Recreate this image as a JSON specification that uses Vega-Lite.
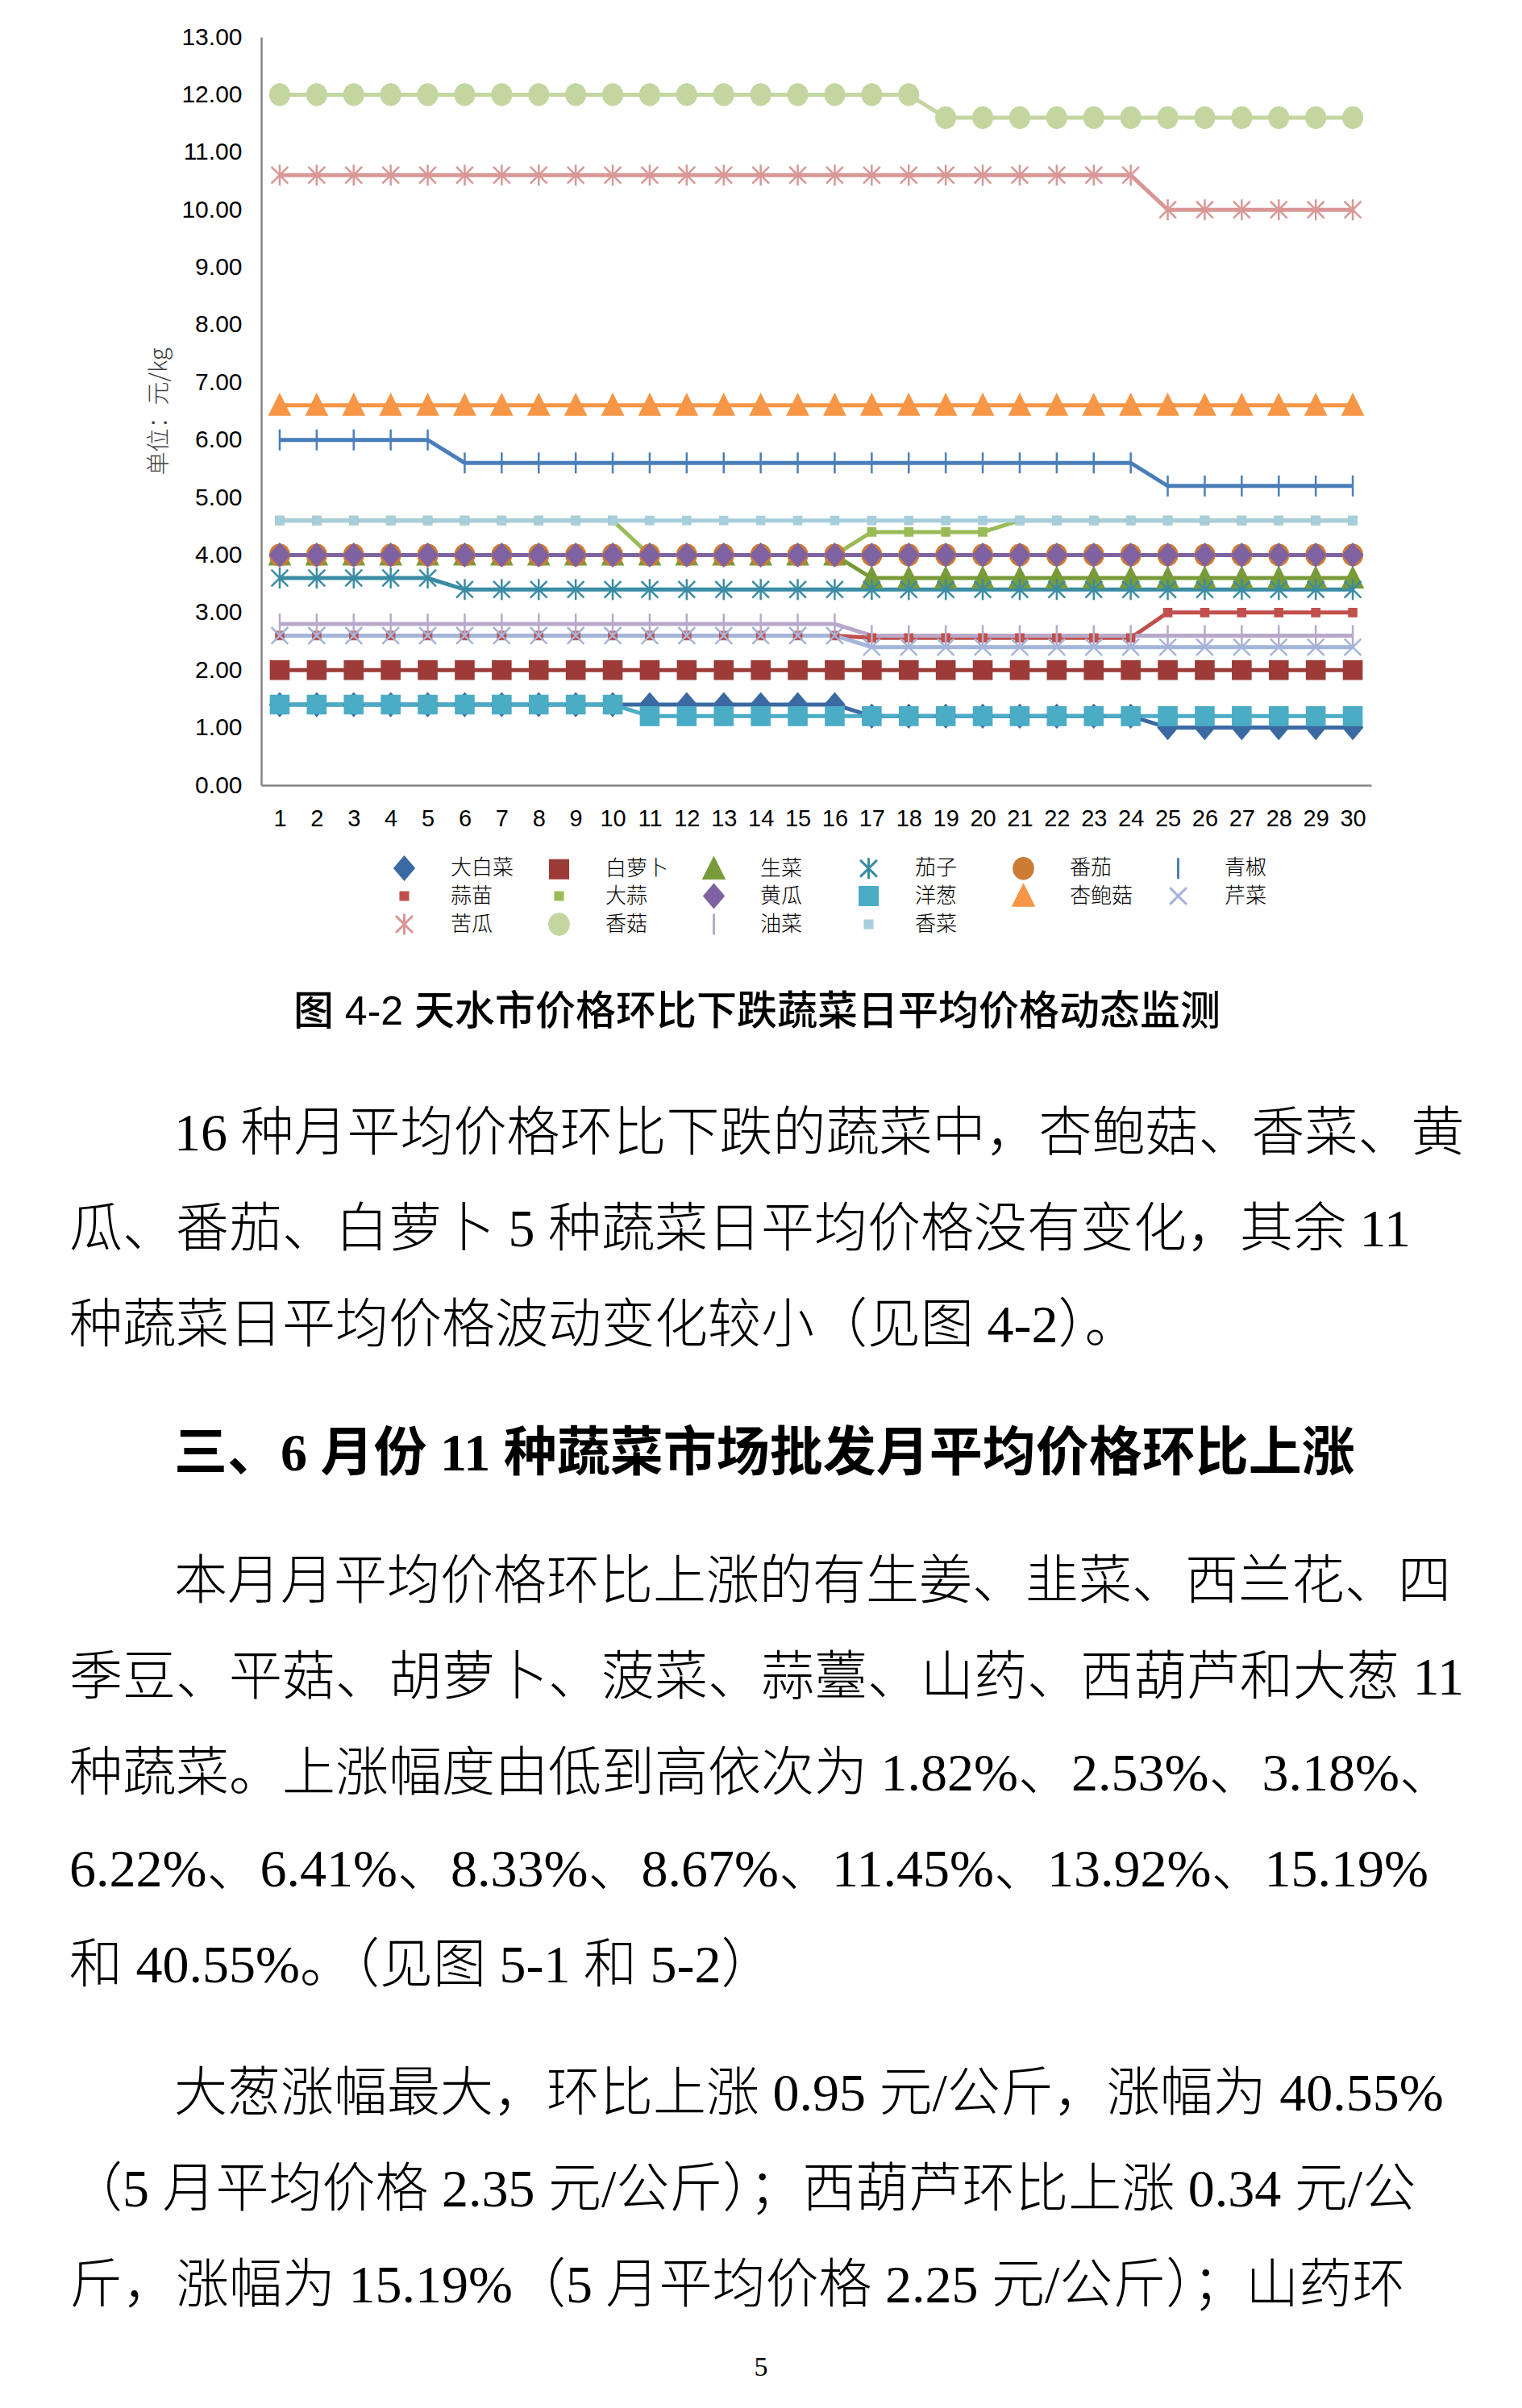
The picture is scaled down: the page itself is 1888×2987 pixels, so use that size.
{
  "$schema": "https://vega.github.io/schema/vega-lite/v6.json",
  "background": "white",
  "padding": {"left": 86, "top": 31, "right": 0, "bottom": 0},
  "config": {
    "view": {"stroke": null},
    "text": {"font": "Liberation Serif, Noto Sans CJK SC", "fontSize": 66, "fontWeight": 300, "color": "#000000", "align": "left", "baseline": "middle"},
    "legend": {
      "title": null, "orient": "none", "legendX": 163, "legendY": 1016,
      "direction": "horizontal", "columns": 6, "gridAlign": "all",
      "columnPadding": 37, "rowPadding": -19, "labelOffset": 43, "padding": 0,
      "labelFont": "Noto Sans CJK SC", "labelFontSize": 26, "labelFontWeight": 300, "labelColor": "#000000",
      "symbolSize": 676, "symbolStrokeWidth": 3, "symbolOpacity": 1
    }
  },
  "bounds": "flush",
  "spacing": 373.5,
  "vconcat": [
    {
      "width": 1377,
      "height": 928,
      "data": {"values": [
        {"day":1,"大白菜":1.4,"白萝卜":2,"生菜":4,"茄子":3.6,"番茄":4,"青椒":6,"蒜苗":2.6,"大蒜":4.6,"黄瓜":4,"洋葱":1.4,"杏鲍菇":6.6,"芹菜":2.6,"苦瓜":10.6,"香菇":12,"油菜":2.8,"香菜":4.6},
        {"day":2,"大白菜":1.4,"白萝卜":2,"生菜":4,"茄子":3.6,"番茄":4,"青椒":6,"蒜苗":2.6,"大蒜":4.6,"黄瓜":4,"洋葱":1.4,"杏鲍菇":6.6,"芹菜":2.6,"苦瓜":10.6,"香菇":12,"油菜":2.8,"香菜":4.6},
        {"day":3,"大白菜":1.4,"白萝卜":2,"生菜":4,"茄子":3.6,"番茄":4,"青椒":6,"蒜苗":2.6,"大蒜":4.6,"黄瓜":4,"洋葱":1.4,"杏鲍菇":6.6,"芹菜":2.6,"苦瓜":10.6,"香菇":12,"油菜":2.8,"香菜":4.6},
        {"day":4,"大白菜":1.4,"白萝卜":2,"生菜":4,"茄子":3.6,"番茄":4,"青椒":6,"蒜苗":2.6,"大蒜":4.6,"黄瓜":4,"洋葱":1.4,"杏鲍菇":6.6,"芹菜":2.6,"苦瓜":10.6,"香菇":12,"油菜":2.8,"香菜":4.6},
        {"day":5,"大白菜":1.4,"白萝卜":2,"生菜":4,"茄子":3.6,"番茄":4,"青椒":6,"蒜苗":2.6,"大蒜":4.6,"黄瓜":4,"洋葱":1.4,"杏鲍菇":6.6,"芹菜":2.6,"苦瓜":10.6,"香菇":12,"油菜":2.8,"香菜":4.6},
        {"day":6,"大白菜":1.4,"白萝卜":2,"生菜":4,"茄子":3.4,"番茄":4,"青椒":5.6,"蒜苗":2.6,"大蒜":4.6,"黄瓜":4,"洋葱":1.4,"杏鲍菇":6.6,"芹菜":2.6,"苦瓜":10.6,"香菇":12,"油菜":2.8,"香菜":4.6},
        {"day":7,"大白菜":1.4,"白萝卜":2,"生菜":4,"茄子":3.4,"番茄":4,"青椒":5.6,"蒜苗":2.6,"大蒜":4.6,"黄瓜":4,"洋葱":1.4,"杏鲍菇":6.6,"芹菜":2.6,"苦瓜":10.6,"香菇":12,"油菜":2.8,"香菜":4.6},
        {"day":8,"大白菜":1.4,"白萝卜":2,"生菜":4,"茄子":3.4,"番茄":4,"青椒":5.6,"蒜苗":2.6,"大蒜":4.6,"黄瓜":4,"洋葱":1.4,"杏鲍菇":6.6,"芹菜":2.6,"苦瓜":10.6,"香菇":12,"油菜":2.8,"香菜":4.6},
        {"day":9,"大白菜":1.4,"白萝卜":2,"生菜":4,"茄子":3.4,"番茄":4,"青椒":5.6,"蒜苗":2.6,"大蒜":4.6,"黄瓜":4,"洋葱":1.4,"杏鲍菇":6.6,"芹菜":2.6,"苦瓜":10.6,"香菇":12,"油菜":2.8,"香菜":4.6},
        {"day":10,"大白菜":1.4,"白萝卜":2,"生菜":4,"茄子":3.4,"番茄":4,"青椒":5.6,"蒜苗":2.6,"大蒜":4.6,"黄瓜":4,"洋葱":1.4,"杏鲍菇":6.6,"芹菜":2.6,"苦瓜":10.6,"香菇":12,"油菜":2.8,"香菜":4.6},
        {"day":11,"大白菜":1.4,"白萝卜":2,"生菜":4,"茄子":3.4,"番茄":4,"青椒":5.6,"蒜苗":2.6,"大蒜":4,"黄瓜":4,"洋葱":1.2,"杏鲍菇":6.6,"芹菜":2.6,"苦瓜":10.6,"香菇":12,"油菜":2.8,"香菜":4.6},
        {"day":12,"大白菜":1.4,"白萝卜":2,"生菜":4,"茄子":3.4,"番茄":4,"青椒":5.6,"蒜苗":2.6,"大蒜":4,"黄瓜":4,"洋葱":1.2,"杏鲍菇":6.6,"芹菜":2.6,"苦瓜":10.6,"香菇":12,"油菜":2.8,"香菜":4.6},
        {"day":13,"大白菜":1.4,"白萝卜":2,"生菜":4,"茄子":3.4,"番茄":4,"青椒":5.6,"蒜苗":2.6,"大蒜":4,"黄瓜":4,"洋葱":1.2,"杏鲍菇":6.6,"芹菜":2.6,"苦瓜":10.6,"香菇":12,"油菜":2.8,"香菜":4.6},
        {"day":14,"大白菜":1.4,"白萝卜":2,"生菜":4,"茄子":3.4,"番茄":4,"青椒":5.6,"蒜苗":2.6,"大蒜":4,"黄瓜":4,"洋葱":1.2,"杏鲍菇":6.6,"芹菜":2.6,"苦瓜":10.6,"香菇":12,"油菜":2.8,"香菜":4.6},
        {"day":15,"大白菜":1.4,"白萝卜":2,"生菜":4,"茄子":3.4,"番茄":4,"青椒":5.6,"蒜苗":2.6,"大蒜":4,"黄瓜":4,"洋葱":1.2,"杏鲍菇":6.6,"芹菜":2.6,"苦瓜":10.6,"香菇":12,"油菜":2.8,"香菜":4.6},
        {"day":16,"大白菜":1.4,"白萝卜":2,"生菜":4,"茄子":3.4,"番茄":4,"青椒":5.6,"蒜苗":2.6,"大蒜":4,"黄瓜":4,"洋葱":1.2,"杏鲍菇":6.6,"芹菜":2.6,"苦瓜":10.6,"香菇":12,"油菜":2.8,"香菜":4.6},
        {"day":17,"大白菜":1.2,"白萝卜":2,"生菜":3.6,"茄子":3.4,"番茄":4,"青椒":5.6,"蒜苗":2.56,"大蒜":4.4,"黄瓜":4,"洋葱":1.2,"杏鲍菇":6.6,"芹菜":2.4,"苦瓜":10.6,"香菇":12,"油菜":2.6,"香菜":4.6},
        {"day":18,"大白菜":1.2,"白萝卜":2,"生菜":3.6,"茄子":3.4,"番茄":4,"青椒":5.6,"蒜苗":2.56,"大蒜":4.4,"黄瓜":4,"洋葱":1.2,"杏鲍菇":6.6,"芹菜":2.4,"苦瓜":10.6,"香菇":12,"油菜":2.6,"香菜":4.6},
        {"day":19,"大白菜":1.2,"白萝卜":2,"生菜":3.6,"茄子":3.4,"番茄":4,"青椒":5.6,"蒜苗":2.56,"大蒜":4.4,"黄瓜":4,"洋葱":1.2,"杏鲍菇":6.6,"芹菜":2.4,"苦瓜":10.6,"香菇":11.6,"油菜":2.6,"香菜":4.6},
        {"day":20,"大白菜":1.2,"白萝卜":2,"生菜":3.6,"茄子":3.4,"番茄":4,"青椒":5.6,"蒜苗":2.56,"大蒜":4.4,"黄瓜":4,"洋葱":1.2,"杏鲍菇":6.6,"芹菜":2.4,"苦瓜":10.6,"香菇":11.6,"油菜":2.6,"香菜":4.6},
        {"day":21,"大白菜":1.2,"白萝卜":2,"生菜":3.6,"茄子":3.4,"番茄":4,"青椒":5.6,"蒜苗":2.56,"大蒜":4.6,"黄瓜":4,"洋葱":1.2,"杏鲍菇":6.6,"芹菜":2.4,"苦瓜":10.6,"香菇":11.6,"油菜":2.6,"香菜":4.6},
        {"day":22,"大白菜":1.2,"白萝卜":2,"生菜":3.6,"茄子":3.4,"番茄":4,"青椒":5.6,"蒜苗":2.56,"大蒜":4.6,"黄瓜":4,"洋葱":1.2,"杏鲍菇":6.6,"芹菜":2.4,"苦瓜":10.6,"香菇":11.6,"油菜":2.6,"香菜":4.6},
        {"day":23,"大白菜":1.2,"白萝卜":2,"生菜":3.6,"茄子":3.4,"番茄":4,"青椒":5.6,"蒜苗":2.56,"大蒜":4.6,"黄瓜":4,"洋葱":1.2,"杏鲍菇":6.6,"芹菜":2.4,"苦瓜":10.6,"香菇":11.6,"油菜":2.6,"香菜":4.6},
        {"day":24,"大白菜":1.2,"白萝卜":2,"生菜":3.6,"茄子":3.4,"番茄":4,"青椒":5.6,"蒜苗":2.56,"大蒜":4.6,"黄瓜":4,"洋葱":1.2,"杏鲍菇":6.6,"芹菜":2.4,"苦瓜":10.6,"香菇":11.6,"油菜":2.6,"香菜":4.6},
        {"day":25,"大白菜":1,"白萝卜":2,"生菜":3.6,"茄子":3.4,"番茄":4,"青椒":5.2,"蒜苗":3,"大蒜":4.6,"黄瓜":4,"洋葱":1.2,"杏鲍菇":6.6,"芹菜":2.4,"苦瓜":10,"香菇":11.6,"油菜":2.6,"香菜":4.6},
        {"day":26,"大白菜":1,"白萝卜":2,"生菜":3.6,"茄子":3.4,"番茄":4,"青椒":5.2,"蒜苗":3,"大蒜":4.6,"黄瓜":4,"洋葱":1.2,"杏鲍菇":6.6,"芹菜":2.4,"苦瓜":10,"香菇":11.6,"油菜":2.6,"香菜":4.6},
        {"day":27,"大白菜":1,"白萝卜":2,"生菜":3.6,"茄子":3.4,"番茄":4,"青椒":5.2,"蒜苗":3,"大蒜":4.6,"黄瓜":4,"洋葱":1.2,"杏鲍菇":6.6,"芹菜":2.4,"苦瓜":10,"香菇":11.6,"油菜":2.6,"香菜":4.6},
        {"day":28,"大白菜":1,"白萝卜":2,"生菜":3.6,"茄子":3.4,"番茄":4,"青椒":5.2,"蒜苗":3,"大蒜":4.6,"黄瓜":4,"洋葱":1.2,"杏鲍菇":6.6,"芹菜":2.4,"苦瓜":10,"香菇":11.6,"油菜":2.6,"香菜":4.6},
        {"day":29,"大白菜":1,"白萝卜":2,"生菜":3.6,"茄子":3.4,"番茄":4,"青椒":5.2,"蒜苗":3,"大蒜":4.6,"黄瓜":4,"洋葱":1.2,"杏鲍菇":6.6,"芹菜":2.4,"苦瓜":10,"香菇":11.6,"油菜":2.6,"香菜":4.6},
        {"day":30,"大白菜":1,"白萝卜":2,"生菜":3.6,"茄子":3.4,"番茄":4,"青椒":5.2,"蒜苗":3,"大蒜":4.6,"黄瓜":4,"洋葱":1.2,"杏鲍菇":6.6,"芹菜":2.4,"苦瓜":10,"香菇":11.6,"油菜":2.6,"香菜":4.6}
      ]},
      "transform": [
        {"fold": ["大白菜","白萝卜","生菜","茄子","番茄","青椒","蒜苗","大蒜","黄瓜","洋葱","杏鲍菇","芹菜","苦瓜","香菇","油菜","香菜"], "as": ["蔬菜", "价格"]}
      ],
      "title": {
        "text": "图 4-2  天水市价格环比下跌蔬菜日平均价格动态监测",
        "orient": "bottom", "anchor": "start", "dx": 180, "offset": 201,
        "font": "Liberation Sans, Noto Sans CJK SC", "fontSize": 50, "fontWeight": 500, "color": "#000000"
      },
      "encoding": {
        "x": {
          "field": "day", "type": "ordinal",
          "scale": {"type": "point", "padding": 0.5},
          "axis": {"title": null, "labelAngle": 0, "ticks": false, "labelPadding": 27, "labelFont": "Liberation Sans", "labelFontSize": 29, "labelColor": "#000000", "domainColor": "#868686", "domainWidth": 2.5}
        },
        "y": {
          "field": "价格", "type": "quantitative",
          "scale": {"domain": [0, 13], "nice": false},
          "axis": {
            "title": "单位：元/kg", "values": [0,1,2,3,4,5,6,7,8,9,10,11,12,13], "format": ".2f",
            "grid": false, "ticks": false, "labelPadding": 24,
            "labelFont": "Liberation Sans", "labelFontSize": 30, "labelColor": "#000000",
            "domainColor": "#868686", "domainWidth": 2.5,
            "titleFont": "Noto Sans CJK SC", "titleFontSize": 29, "titleFontWeight": 300, "titleColor": "#404040", "titlePadding": 12
          }
        }
      },
      "layer": [
        {
          "mark": {"type": "line", "strokeWidth": 5},
          "encoding": {
            "stroke": {"field": "蔬菜", "type": "nominal",
              "scale": {"domain": ["大白菜","白萝卜","生菜","茄子","番茄","青椒","蒜苗","大蒜","黄瓜","洋葱","杏鲍菇","芹菜","苦瓜","香菇","油菜","香菜"],
                        "range": ["#3B6AA3","#9C3B38","#789B3A","#3A8CA4","#CD7C36","#4A7EBB","#C0504D","#9BBB59","#7F62A1","#4BACC6","#F79646","#A3B5DA","#D99795","#C3D6A0","#B8A9CA","#A6CEDB"]}}
          }
        },
        {
          "mark": {"type": "point", "filled": true, "size": 676, "strokeWidth": 2.5, "opacity": 1},
          "encoding": {
            "stroke": {"field": "蔬菜", "type": "nominal"},
            "fill": {"field": "蔬菜", "type": "nominal",
              "scale": {"domain": ["大白菜","白萝卜","生菜","茄子","番茄","青椒","蒜苗","大蒜","黄瓜","洋葱","杏鲍菇","芹菜","苦瓜","香菇","油菜","香菜"],
                        "range": ["#3B6AA3","#9C3B38","#789B3A","#3A8CA4","#CD7C36","#4A7EBB","#C0504D","#9BBB59","#7F62A1","#4BACC6","#F79646","#A3B5DA","#D99795","#C3D6A0","#B8A9CA","#A6CEDB"]}},
            "shape": {"field": "蔬菜", "type": "nominal",
              "scale": {"domain": ["大白菜","白萝卜","生菜","茄子","番茄","青椒","蒜苗","大蒜","黄瓜","洋葱","杏鲍菇","芹菜","苦瓜","香菇","油菜","香菜"],
                        "range": [
                          "M0,-1.05L0.9,0L0,1.05L-0.9,0Z",
                          "M-0.85,-0.85H0.85V0.85H-0.85Z",
                          "M0,-1L0.95,0.9H-0.95Z",
                          "M0,-1V1M-0.8,-0.8L0.8,0.8M-0.8,0.8L0.8,-0.8",
                          "M0.92,0L0.85,0.38L0.65,0.71L0.35,0.92L0,1L-0.35,0.92L-0.65,0.71L-0.85,0.38L-0.92,0L-0.85,-0.38L-0.65,-0.71L-0.35,-0.92L0,-1L0.35,-0.92L0.65,-0.71L0.85,-0.38Z",
                          "M0,-1V1",
                          "M-0.35,-0.35H0.35V0.35H-0.35Z",
                          "M-0.35,-0.35H0.35V0.35H-0.35Z",
                          "M0,-1.05L0.9,0L0,1.05L-0.9,0Z",
                          "M-0.85,-0.85H0.85V0.85H-0.85Z",
                          "M0,-1L0.95,0.9H-0.95Z",
                          "M-0.8,-0.8L0.8,0.8M-0.8,0.8L0.8,-0.8",
                          "M0,-1V1M-0.8,-0.8L0.8,0.8M-0.8,0.8L0.8,-0.8",
                          "M0.92,0L0.85,0.38L0.65,0.71L0.35,0.92L0,1L-0.35,0.92L-0.65,0.71L-0.85,0.38L-0.92,0L-0.85,-0.38L-0.65,-0.71L-0.35,-0.92L0,-1L0.35,-0.92L0.65,-0.71L0.85,-0.38Z",
                          "M0,-1V1",
                          "M-0.35,-0.35H0.35V0.35H-0.35Z"
                        ]}
            }
          }
        }
      ]
    },
    {
      "bounds": "flush",
      "spacing": 40,
      "vconcat": [
        {
          "width": 1377, "height": 357,
          "data": {"values": [
            {"line": 1, "indent": 2, "text": "16 种月平均价格环比下跌的蔬菜中，杏鲍菇、香菜、黄"},
            {"line": 2, "indent": 0, "text": "瓜、番茄、白萝卜 5 种蔬菜日平均价格没有变化，其余 11"},
            {"line": 3, "indent": 0, "text": "种蔬菜日平均价格波动变化较小（见图 4-2）。"}
          ]},
          "mark": {"type": "text"},
          "encoding": {
            "x": {"field": "indent", "type": "quantitative", "scale": {"domain": [3.6615, 24.846], "nice": false, "zero": false}, "axis": null},
            "y": {"field": "line", "type": "ordinal", "scale": {"type": "band", "paddingInner": 0, "paddingOuter": 0}, "axis": null},
            "text": {"field": "text"}
          }
        },
        {
          "width": 1377, "height": 119,
          "data": {"values": [
            {"line": 1, "indent": 2, "text": "三、6 月份 11 种蔬菜市场批发月平均价格环比上涨"}
          ]},
          "mark": {"type": "text", "fontWeight": "bold", "fontSize": 66},
          "encoding": {
            "x": {"field": "indent", "type": "quantitative", "scale": {"domain": [3.6615, 24.846], "nice": false, "zero": false}, "axis": null},
            "y": {"field": "line", "type": "ordinal", "scale": {"type": "band", "paddingInner": 0, "paddingOuter": 0}, "axis": null},
            "text": {"field": "text"}
          }
        },
        {
          "width": 1377, "height": 595,
          "data": {"values": [
            {"line": 1, "indent": 2, "text": "本月月平均价格环比上涨的有生姜、韭菜、西兰花、四"},
            {"line": 2, "indent": 0, "text": "季豆、平菇、胡萝卜、菠菜、蒜薹、山药、西葫芦和大葱 11"},
            {"line": 3, "indent": 0, "text": "种蔬菜。上涨幅度由低到高依次为 1.82%、2.53%、3.18%、"},
            {"line": 4, "indent": 0, "text": "6.22%、6.41%、8.33%、8.67%、11.45%、13.92%、15.19%"},
            {"line": 5, "indent": 0, "text": "和 40.55%。（见图 5-1 和 5-2）"}
          ]},
          "mark": {"type": "text"},
          "encoding": {
            "x": {"field": "indent", "type": "quantitative", "scale": {"domain": [3.6615, 24.846], "nice": false, "zero": false}, "axis": null},
            "y": {"field": "line", "type": "ordinal", "scale": {"type": "band", "paddingInner": 0, "paddingOuter": 0}, "axis": null},
            "text": {"field": "text"}
          }
        },
        {
          "width": 1377, "height": 357,
          "data": {"values": [
            {"line": 1, "indent": 2, "text": "大葱涨幅最大，环比上涨 0.95 元/公斤，涨幅为 40.55%"},
            {"line": 2, "indent": 0, "text": "（5 月平均价格 2.35 元/公斤）；西葫芦环比上涨 0.34 元/公"},
            {"line": 3, "indent": 0, "text": "斤，涨幅为 15.19%（5 月平均价格 2.25 元/公斤）；山药环"}
          ]},
          "mark": {"type": "text"},
          "encoding": {
            "x": {"field": "indent", "type": "quantitative", "scale": {"domain": [3.6615, 24.846], "nice": false, "zero": false}, "axis": null},
            "y": {"field": "line", "type": "ordinal", "scale": {"type": "band", "paddingInner": 0, "paddingOuter": 0}, "axis": null},
            "text": {"field": "text"}
          }
        },
        {
          "width": 1377, "height": 2,
          "data": {"values": [
            {"line": 1, "indent": 13.2, "text": "5"}
          ]},
          "mark": {"type": "text", "align": "center", "fontSize": 34, "fontWeight": "normal"},
          "encoding": {
            "x": {"field": "indent", "type": "quantitative", "scale": {"domain": [3.6615, 24.846], "nice": false, "zero": false}, "axis": null},
            "y": {"field": "line", "type": "ordinal", "scale": {"type": "band", "paddingInner": 0, "paddingOuter": 0}, "axis": null},
            "text": {"field": "text"}
          }
        }
      ]
    }
  ]
}
